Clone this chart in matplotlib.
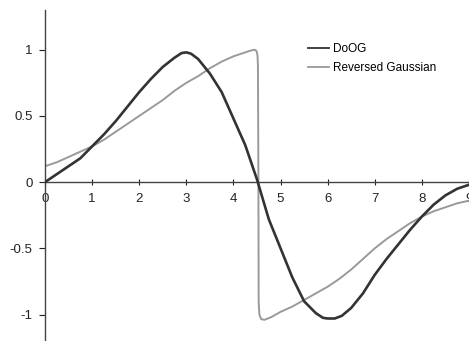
import matplotlib.pyplot as plt

# Curves sampled along x
doog_x = [0, 0.25, 0.5, 0.75, 1.0, 1.25, 1.5, 1.75, 2.0, 2.25, 2.5, 2.75, 2.9, 3.0,
          3.1, 3.25, 3.5, 3.75, 4.0, 4.25, 4.5, 4.75, 5.0, 5.25, 5.5, 5.75, 5.9, 6.0,
          6.15, 6.3, 6.5, 6.75, 7.0, 7.25, 7.5, 7.75, 8.0, 8.25, 8.5, 8.75, 9.0]
doog_y = [0, 0.06, 0.12, 0.18, 0.27, 0.36, 0.46, 0.57, 0.68, 0.78, 0.87, 0.94, 0.975, 0.98,
          0.97, 0.93, 0.82, 0.68, 0.48, 0.28, 0.02, -0.28, -0.50, -0.72, -0.90, -0.99, -1.025, -1.03,
          -1.03, -1.01, -0.95, -0.84, -0.70, -0.58, -0.47, -0.36, -0.26, -0.17, -0.10, -0.05, -0.02]

rev_x = [0, 0.25, 0.5, 0.75, 1.0, 1.25, 1.5, 1.75, 2.0, 2.25, 2.5, 2.75, 3.0,
         3.25, 3.5, 3.75, 4.0, 4.25, 4.38, 4.45, 4.49, 4.51, 4.52, 4.53, 4.535, 4.55, 4.59, 4.66,
         4.8, 5.0, 5.25, 5.5, 5.75, 6.0, 6.25, 6.5, 6.75, 7.0, 7.25, 7.5, 7.75,
         8.0, 8.25, 8.5, 8.75, 9.0]
rev_y = [0.12, 0.15, 0.19, 0.23, 0.27, 0.32, 0.38, 0.44, 0.50, 0.56, 0.62, 0.69, 0.75,
         0.80, 0.86, 0.91, 0.95, 0.98, 0.995, 1.0, 0.99, 0.96, 0.88, 0.0, -0.90, -1.0, -1.035, -1.04,
         -1.02, -0.98, -0.94, -0.89, -0.84, -0.79, -0.73, -0.66, -0.58, -0.50, -0.43, -0.37, -0.31,
         -0.26, -0.22, -0.19, -0.16, -0.14]

x_ticks = [0, 1, 2, 3, 4, 5, 6, 7, 8, 9]
y_ticks = [-1, -0.5, 0, 0.5, 1]
y_labels = ["-1", "-0.5", "0", "0.5", "1"]

plt.rcParams['font.family'] = ['Liberation Sans', 'DejaVu Sans']

fig = plt.figure(figsize=(4.69, 3.41), dpi=100)
ax = fig.add_axes([45 / 469, 0, 1 - 45 / 469, 1 - 10 / 341])

ax.plot(doog_x, doog_y, color='#333333', lw=1.9, label='DoOG', zorder=3,
        solid_joinstyle='round')
ax.plot(rev_x, rev_y, color='#9a9a9a', lw=1.4, label='Reversed Gaussian', zorder=2,
        solid_joinstyle='round')

ax.set_xlim(0, 9)
ax.set_ylim(-1.2, 1.3)

# axes cross at the origin
ax.spines['bottom'].set_position(('data', 0))
ax.spines['top'].set_visible(False)
ax.spines['right'].set_visible(False)
for s in ('left', 'bottom'):
    ax.spines[s].set_color('#444444')
    ax.spines[s].set_linewidth(1.0)

ax.set_xticks(x_ticks)
ax.set_yticks(y_ticks)
ax.set_yticklabels(y_labels)
ax.tick_params(axis='x', direction='inout', length=4, pad=6, labelsize=9.5, colors='#222222')
ax.tick_params(axis='y', direction='out', length=4, pad=5, labelsize=9.5, colors='#222222')

leg = ax.legend(loc='upper left', bbox_to_anchor=(0.644, 0.89), bbox_transform=fig.transFigure,
                frameon=False, fontsize=8.5, handlelength=1.8, handletextpad=0.35,
                labelspacing=0.55, borderpad=0)
for line in leg.get_lines():
    line.set_linewidth(1.3)

fig.savefig('out.png', dpi=100)
